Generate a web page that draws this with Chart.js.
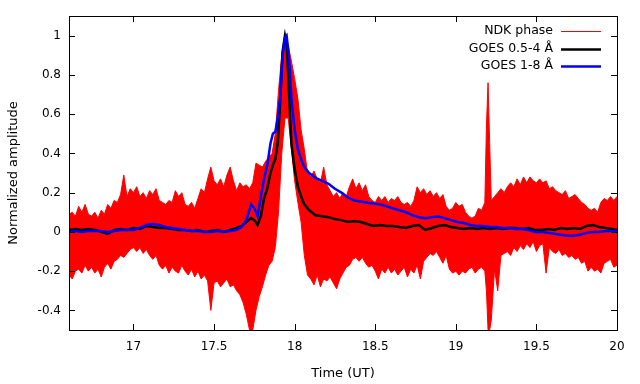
<!DOCTYPE html>
<html>
<head>
<meta charset="utf-8">
<script src="https://cdn.jsdelivr.net/npm/chart.js@4"></script>
<style>
  html, body { margin: 0; padding: 0; background: #fff; }
  canvas { display: block; }
</style>
</head>
<body>
<canvas id="chart" width="640" height="384"></canvas>
<script>
// tick labels
const xTicks = [17, 17.5, 18, 18.5, 19, 19.5, 20];
const yTicks = [-0.4, -0.2, 0, 0.2, 0.4, 0.6, 0.8, 1];

// GOES curves (time in UT hours, normalized)
const goesTime = [16.6, 16.64, 16.68, 16.72, 16.76, 16.8, 16.84, 16.88, 16.92, 16.96, 17.0, 17.04, 17.08, 17.12,
  17.16, 17.2, 17.24, 17.28, 17.32, 17.36, 17.4, 17.44, 17.48, 17.52, 17.56, 17.6, 17.64, 17.67, 17.7, 17.73,
  17.75, 17.77, 17.79, 17.81, 17.83, 17.85, 17.865, 17.88, 17.895, 17.91, 17.925, 17.94, 17.95, 17.96, 17.97,
  17.98, 18.0, 18.02, 18.04, 18.06, 18.09, 18.13, 18.17, 18.21, 18.25, 18.29, 18.33, 18.37, 18.41, 18.45, 18.49,
  18.53, 18.57, 18.61, 18.65, 18.69, 18.73, 18.77, 18.81, 18.85, 18.89, 18.93, 18.97, 19.01, 19.05, 19.09, 19.13,
  19.17, 19.21, 19.25, 19.29, 19.33, 19.37, 19.41, 19.45, 19.49, 19.53, 19.57, 19.61, 19.65, 19.69, 19.73, 19.77,
  19.81, 19.85, 19.89, 19.93, 19.97, 20.0];
const goesHard = [0.01, 0.015, 0.01, 0.015, 0.01, 0.0, -0.01, 0.01, 0.015, 0.01, 0.02, 0.015, 0.03, 0.025,
  0.02, 0.02, 0.015, 0.01, 0.01, 0.005, 0.01, 0.0, 0.005, 0.01, 0.0, 0.01, 0.02, 0.03, 0.05, 0.07,
  0.06, 0.035, 0.08, 0.17, 0.22, 0.3, 0.34, 0.37, 0.45, 0.66, 0.92, 1.0, 0.96, 0.8, 0.62,
  0.45, 0.32, 0.23, 0.18, 0.14, 0.11, 0.085, 0.08, 0.075, 0.065, 0.06, 0.05, 0.055, 0.05, 0.04, 0.03,
  0.035, 0.03, 0.03, 0.025, 0.02, 0.03, 0.035, 0.01, 0.02, 0.03, 0.035, 0.025, 0.02, 0.015, 0.02, 0.015,
  0.02, 0.015, 0.02, 0.015, 0.02, 0.02, 0.015, 0.02, 0.01, 0.01, 0.015, 0.01, 0.02, 0.015, 0.02, 0.015,
  0.03, 0.035, 0.025, 0.02, 0.015, 0.01];
const goesSoft = [0.0, 0.005, 0.0, 0.005, 0.005, 0.005, 0.0, 0.005, 0.01, 0.01, 0.01, 0.02, 0.035, 0.04,
  0.035, 0.025, 0.02, 0.015, 0.01, 0.005, 0.005, 0.0, 0.0, 0.005, 0.0, 0.005, 0.01, 0.025, 0.06, 0.14,
  0.12, 0.08, 0.18, 0.27, 0.34, 0.45, 0.5, 0.51, 0.58, 0.68, 0.9, 0.99, 1.0, 0.93, 0.83,
  0.68, 0.52, 0.42, 0.37, 0.33, 0.3, 0.275, 0.26, 0.245, 0.22, 0.2, 0.175, 0.16, 0.155, 0.148, 0.145,
  0.14, 0.13, 0.12, 0.11, 0.1, 0.085, 0.075, 0.07, 0.075, 0.078, 0.07, 0.06, 0.05, 0.045, 0.035, 0.03,
  0.03, 0.025, 0.025, 0.02, 0.02, 0.015, 0.015, 0.01, 0.0, 0.0, -0.005, -0.01, -0.015, -0.02, -0.02, -0.015,
  -0.005, 0.0, 0.0, 0.005, 0.005, 0.005];

// NDK phase: upper and lower edge of the noisy trace
const ndkTime = [16.6, 16.62, 16.64, 16.66, 16.68, 16.7, 16.72, 16.74, 16.76, 16.78, 16.8, 16.82, 16.84, 16.86,
  16.88, 16.9, 16.92, 16.94, 16.96, 16.98, 17.0, 17.02, 17.04, 17.06, 17.08, 17.1, 17.12, 17.14, 17.16, 17.18,
  17.2, 17.22, 17.24, 17.26, 17.28, 17.3, 17.32, 17.34, 17.36, 17.38, 17.4, 17.42, 17.44, 17.46, 17.48, 17.5,
  17.52, 17.54, 17.56, 17.58, 17.6, 17.62, 17.64, 17.66, 17.68, 17.7, 17.72, 17.74, 17.76, 17.78, 17.8, 17.82,
  17.84, 17.86, 17.88, 17.9, 17.92, 17.94, 17.96, 17.98, 18.0, 18.02, 18.04, 18.06, 18.08, 18.1, 18.12, 18.14,
  18.16, 18.18, 18.2, 18.22, 18.24, 18.26, 18.28, 18.3, 18.32, 18.34, 18.36, 18.38, 18.4, 18.42, 18.44, 18.46,
  18.48, 18.5, 18.52, 18.54, 18.56, 18.58, 18.6, 18.62, 18.64, 18.66, 18.68, 18.7, 18.72, 18.74, 18.76, 18.78,
  18.8, 18.82, 18.84, 18.86, 18.88, 18.9, 18.92, 18.94, 18.96, 18.98, 19.0, 19.02, 19.04, 19.06, 19.08, 19.1,
  19.12, 19.14, 19.16, 19.18, 19.19, 19.2, 19.21, 19.22, 19.24, 19.26, 19.28, 19.3, 19.32, 19.34, 19.36, 19.38,
  19.4, 19.42, 19.44, 19.46, 19.48, 19.5, 19.52, 19.54, 19.56, 19.58, 19.6, 19.62, 19.64, 19.66, 19.68, 19.7,
  19.72, 19.74, 19.76, 19.78, 19.8, 19.82, 19.84, 19.86, 19.88, 19.9, 19.92, 19.94, 19.96, 19.98, 20.0];
const ndkHigh = [0.09, 0.1, 0.08, 0.13, 0.1, 0.14, 0.09, 0.08, 0.1, 0.07, 0.11, 0.09, 0.14, 0.12,
  0.16, 0.15, 0.19, 0.29, 0.18, 0.22, 0.2, 0.23, 0.18, 0.2, 0.17, 0.21, 0.19, 0.22, 0.16, 0.15,
  0.14, 0.16, 0.15, 0.21, 0.18, 0.2, 0.14, 0.13, 0.15, 0.12, 0.17, 0.22, 0.2, 0.27, 0.33, 0.26,
  0.24, 0.27, 0.23, 0.29, 0.33, 0.26, 0.21, 0.25, 0.23, 0.24, 0.22, 0.25, 0.35, 0.34, 0.33, 0.36,
  0.38, 0.4, 0.5, 0.72, 0.9, 0.98, 0.95, 0.87, 0.78, 0.68, 0.52, 0.42, 0.3, 0.28, 0.31, 0.27,
  0.25, 0.33, 0.24, 0.21, 0.18, 0.2, 0.17, 0.2, 0.18, 0.23, 0.27, 0.22, 0.25, 0.21, 0.24, 0.18,
  0.16, 0.15, 0.18, 0.16, 0.18, 0.15, 0.17, 0.16, 0.18, 0.15, 0.14, 0.15, 0.13, 0.16, 0.23, 0.2,
  0.22, 0.19, 0.21, 0.18, 0.2, 0.17, 0.19, 0.13, 0.11, 0.12, 0.15, 0.13, 0.14, 0.1, 0.08, 0.07,
  0.08, 0.12, 0.11, 0.15, 0.54, 0.76, 0.45, 0.16, 0.18, 0.2, 0.22, 0.2, 0.23, 0.25, 0.23, 0.27,
  0.24, 0.28, 0.25, 0.28, 0.26, 0.25, 0.27, 0.25, 0.26, 0.22, 0.23, 0.21, 0.2, 0.19, 0.21, 0.17,
  0.18, 0.19, 0.17, 0.15, 0.14, 0.12, 0.11, 0.12, 0.1, 0.15, 0.17, 0.16, 0.18, 0.16, 0.18];
const ndkLow = [-0.22, -0.24, -0.2, -0.19, -0.21, -0.17, -0.2, -0.18, -0.21, -0.19, -0.23, -0.18, -0.16, -0.19,
  -0.15, -0.14, -0.12, -0.13, -0.11, -0.09, -0.08, -0.1, -0.08, -0.11, -0.09, -0.12, -0.14, -0.12, -0.17, -0.19,
  -0.17, -0.21, -0.18, -0.2, -0.21, -0.17, -0.2, -0.22, -0.19, -0.23, -0.2, -0.24, -0.22, -0.25, -0.4, -0.26,
  -0.25, -0.28, -0.26, -0.24, -0.28, -0.27, -0.3, -0.32, -0.36, -0.42, -0.5, -0.5, -0.4, -0.33, -0.28, -0.22,
  -0.17, -0.15, -0.08, 0.1, 0.4, 0.58, 0.58, 0.42, 0.26, 0.15, 0.05, -0.12, -0.22, -0.24, -0.27, -0.22,
  -0.28, -0.24, -0.25, -0.23, -0.26, -0.29, -0.24, -0.21, -0.18, -0.17, -0.14, -0.13, -0.15, -0.13, -0.16, -0.18,
  -0.17, -0.2, -0.24, -0.19, -0.21, -0.18, -0.21, -0.19, -0.22, -0.2, -0.18, -0.23, -0.19, -0.21, -0.17, -0.24,
  -0.15, -0.13, -0.11, -0.12, -0.1, -0.13, -0.16, -0.12, -0.19, -0.21, -0.2, -0.22, -0.2, -0.21, -0.19, -0.18,
  -0.21, -0.19, -0.18, -0.2, -0.3, -0.5, -0.5, -0.45, -0.19, -0.3, -0.12, -0.11, -0.1, -0.12, -0.08, -0.1,
  -0.07, -0.09, -0.06, -0.08, -0.05, -0.1, -0.07, -0.06, -0.21, -0.08, -0.1, -0.11, -0.09, -0.12, -0.11, -0.13,
  -0.12, -0.14, -0.13, -0.16, -0.15, -0.2, -0.18, -0.2, -0.19, -0.21, -0.16, -0.15, -0.14, -0.18, -0.17, -0.19];

const FONT = 'DejaVu Sans';

const pts = (xs, ys) => xs.map((x, i) => ({ x, y: ys[i] }));

// gnuplot-style inward ticks on all four sides + frame
const frameTicks = {
  id: 'frameTicks',
  afterDatasetsDraw(chart) {
    const { ctx, chartArea: a, scales } = chart;
    ctx.save();
    ctx.strokeStyle = '#000';
    ctx.lineWidth = 1;
    ctx.beginPath();
    const len = 6;
    scales.x.ticks.forEach(t => {
      const px = Math.round(scales.x.getPixelForValue(t.value)) + 0.5;
      ctx.moveTo(px, a.bottom); ctx.lineTo(px, a.bottom - len);
      ctx.moveTo(px, a.top); ctx.lineTo(px, a.top + len);
    });
    scales.y.ticks.forEach(t => {
      const py = Math.round(scales.y.getPixelForValue(t.value)) + 0.5;
      ctx.moveTo(a.left, py); ctx.lineTo(a.left + len, py);
      ctx.moveTo(a.right, py); ctx.lineTo(a.right - len, py);
    });
    ctx.stroke();
    ctx.strokeRect(Math.round(a.left) + 0.5, Math.round(a.top) + 0.5,
      Math.round(a.right - a.left), Math.round(a.bottom - a.top));
    ctx.restore();
  }
};

// key in the top right corner: text first, sample line after it
const keyBox = {
  id: 'keyBox',
  afterDraw(chart) {
    const { ctx } = chart;
    const items = chart.data.datasets.filter(d => d.label);
    ctx.save();
    ctx.font = '12.5px ' + FONT;
    ctx.textAlign = 'right';
    ctx.textBaseline = 'middle';
    items.forEach((d, i) => {
      const y = 31 + i * 17.5;
      ctx.fillStyle = '#000';
      ctx.fillText(d.label, 553, y);
      ctx.strokeStyle = d.borderColor;
      ctx.lineWidth = d.keyWidth;
      ctx.beginPath();
      ctx.moveTo(561, Math.round(y) + 0.5); ctx.lineTo(601, Math.round(y) + 0.5);
      ctx.stroke();
    });
    ctx.restore();
  }
};

new Chart(document.getElementById('chart'), {
  type: 'line',
  data: {
    datasets: [
      {
        label: 'NDK phase', keyWidth: 1,
        data: pts(ndkTime, ndkHigh),
        borderColor: '#ff0000', backgroundColor: '#ff0000', borderWidth: 1,
        fill: '+1', pointRadius: 0, tension: 0, order: 3
      },
      {
        data: pts(ndkTime, ndkLow),
        borderColor: '#ff0000', borderWidth: 1,
        fill: false, pointRadius: 0, tension: 0, order: 4
      },
      {
        label: 'GOES 0.5-4 Å', keyWidth: 2.5,
        data: pts(goesTime, goesHard),
        borderColor: '#000000', borderWidth: 2.5,
        fill: false, pointRadius: 0, tension: 0, order: 1
      },
      {
        label: 'GOES 1-8 Å', keyWidth: 2.5,
        data: pts(goesTime, goesSoft),
        borderColor: '#0000ff', borderWidth: 2.5,
        fill: false, pointRadius: 0, tension: 0, order: 0
      }
    ]
  },
  options: {
    responsive: false,
    animation: false,
    devicePixelRatio: 1,
    layout: { padding: { top: 16, right: 23, left: 0, bottom: 0 } },
    plugins: { legend: { display: false }, tooltip: { enabled: false } },
    scales: {
      x: {
        type: 'linear', min: 16.6, max: 20,
        afterBuildTicks: s => { s.ticks = xTicks.map(v => ({ value: v })); },
        afterFit: s => { s.height = 54; },
        grid: { display: false, drawTicks: false },
        border: { display: false },
        ticks: { color: '#000', padding: 10, font: { family: FONT, size: 12 }, maxRotation: 0,
          callback: v => String(v) },
        title: { display: true, text: 'Time (UT)', color: '#000', font: { family: FONT, size: 13 },
          padding: { top: 0, bottom: 3 } }
      },
      y: {
        type: 'linear', min: -0.5, max: 1.1,
        afterBuildTicks: s => { s.ticks = yTicks.map(v => ({ value: v })); },
        afterFit: s => { s.width = 69; },
        grid: { display: false, drawTicks: false },
        border: { display: false },
        ticks: { color: '#000', padding: 8, font: { family: FONT, size: 12 },
          callback: v => String(v) },
        title: { display: true, text: 'Normalized amplitude', color: '#000', font: { family: FONT, size: 13 },
          padding: { top: 6, bottom: 0 } }
      }
    }
  },
  plugins: [frameTicks, keyBox]
});
</script>
</body>
</html>
